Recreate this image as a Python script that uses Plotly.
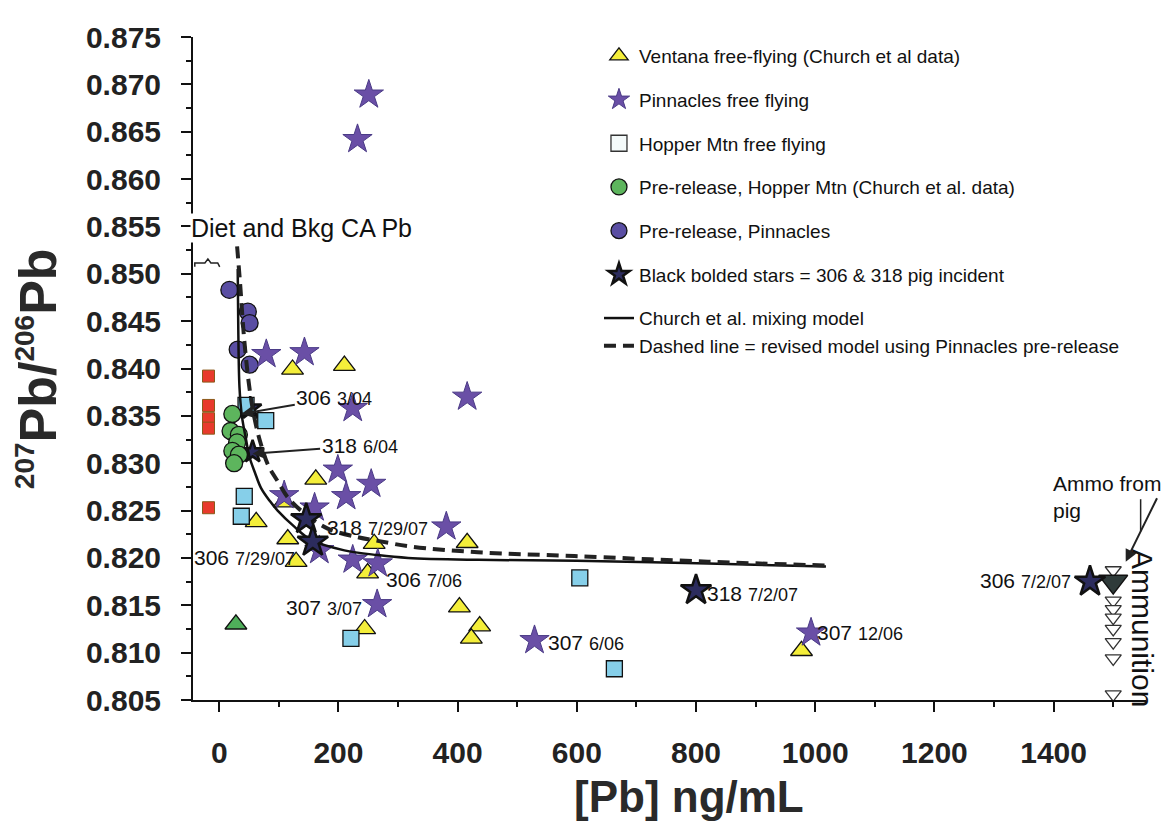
import plotly.graph_objects as go

# ---------------- data ----------------
ventana_x = [123, 210, 62, 109, 162, 115, 129, 260, 249, 244, 416, 403, 437, 423, 977]
ventana_y = [0.8399, 0.8403, 0.8238, 0.8259, 0.8283, 0.8220, 0.8196, 0.8215, 0.8184,
             0.8125, 0.8216, 0.8148, 0.8128, 0.8115, 0.8102]

pinn_ff_x = [251, 232, 79, 143, 224, 416, 109, 199, 255, 213, 160, 381, 168, 224, 266, 265, 529, 993]
pinn_ff_y = [0.8689, 0.8642, 0.8415, 0.8417, 0.8358, 0.8370, 0.8266, 0.8293, 0.8278, 0.8265,
             0.8253, 0.8233, 0.8208, 0.8198, 0.8194, 0.8151, 0.8113, 0.8121]

hopper_ff_x = [45, 78, 42, 37, 605, 221, 663]
hopper_ff_y = [0.8361, 0.8345, 0.8265, 0.8244, 0.8179, 0.8115, 0.8083]

pre_hopper_x = [22, 19, 33, 30, 22, 33, 25]
pre_hopper_y = [0.8352, 0.8334, 0.8330, 0.8322, 0.8313, 0.8309, 0.8300]

pre_pinn_x = [17, 48, 51, 31, 51]
pre_pinn_y = [0.8483, 0.8460, 0.8448, 0.8420, 0.8404]

# black bolded stars (pig incident): early samples sit under the clusters
pig_early_x = [52, 56]
pig_early_y = [0.8358, 0.8312]
pig_late_x = [146, 157, 800, 1461]
pig_late_y = [0.8241, 0.8217, 0.8166, 0.8175]

red_x = [-18, -18, -18, -18, -18]
red_y = [0.8392, 0.8361, 0.8347, 0.8337, 0.8253]

green_tri_x = [28]
green_tri_y = [0.8130]

ammo_x = [1500, 1500, 1500, 1500, 1500, 1500, 1500, 1500]
ammo_y = [0.8187, 0.8155, 0.8146, 0.8137, 0.8125, 0.8111, 0.8094, 0.8056]

ammo_pig_x = [1500]
ammo_pig_y = [0.8175]

church_x = [31, 32, 34, 38, 45, 51, 60, 70, 85, 98, 126, 154, 210, 266, 317, 434, 600, 820, 1018]
church_y = [0.8505, 0.8440, 0.8380, 0.8350, 0.8325, 0.8306, 0.8290, 0.8274, 0.8260, 0.8250,
            0.8233, 0.8219, 0.8208, 0.8203, 0.8200, 0.8198, 0.8197, 0.8194, 0.8191]

revised_x = [30, 35, 42, 51, 60, 70, 82, 98, 115, 143, 182, 232, 266, 322, 434, 596, 820, 1018]
revised_y = [0.8529, 0.8490, 0.8430, 0.8378, 0.8345, 0.8320, 0.8298, 0.8281, 0.8264, 0.8247,
             0.8231, 0.8222, 0.8218, 0.8212, 0.8206, 0.8202, 0.8196, 0.8192]

# sample labels without arrows: (id, date, x, y)
label_id = ["318", "306", "306", "307", "307", "318", "307", "306"]
label_date = ["7/29/07", "7/29/07", "7/06", "3/07", "6/06", "7/2/07", "12/06", "7/2/07"]
label_x = [266, 43, 343, 175, 615, 895, 1075, 1352]
label_y = [0.82322, 0.82000, 0.81771, 0.81479, 0.81104, 0.81625, 0.81208, 0.81760]

# sample labels with arrows: (id, date, arrow head x, y)
arrow_id = ["306", "318"]
arrow_date = ["3/04", "6/04"]
arrow_x = [37, 56]
arrow_y = [0.8352, 0.8310]

FONT = "Liberation Sans, Arial, Helvetica, sans-serif"

fig = go.Figure()

mline = dict(color="#111111", width=1.3)
star_dark = dict(symbol="star", size=23, color="#2c2c5e", line=dict(color="#111111", width=2.5))

fig.add_trace(go.Scatter(x=pig_early_x, y=pig_early_y, mode="markers", showlegend=False,
                         marker=dict(star_dark, size=17)))
fig.add_trace(go.Scatter(x=red_x, y=red_y, mode="markers", showlegend=False,
                         marker=dict(symbol="square", size=12, color="#e83a2c",
                                     line=dict(color="#8a5a1a", width=1))))
fig.add_trace(go.Scatter(x=green_tri_x, y=green_tri_y, mode="markers", showlegend=False,
                         marker=dict(symbol="triangle-up", size=19, color="#4fae5a", line=mline)))
fig.add_trace(go.Scatter(x=ventana_x, y=ventana_y, mode="markers",
                         name="Ventana free-flying (Church et al data)", legendgroup="g1", legendrank=1,
                         marker=dict(symbol="triangle-up", size=19, color="#f4ee3a", line=mline)))
fig.add_trace(go.Scatter(x=hopper_ff_x, y=hopper_ff_y, mode="markers", showlegend=False,
                         legendgroup="g3",
                         marker=dict(symbol="square", size=16, color="#86cfe9", line=mline)))
fig.add_trace(go.Scatter(x=[None], y=[None], mode="markers",
                         name="Hopper Mtn free flying", legendgroup="g3", legendrank=3,
                         marker=dict(symbol="square", size=16, color="#f4fafa",
                                     line=dict(color="#333333", width=1.3))))
fig.add_trace(go.Scatter(x=pre_hopper_x, y=pre_hopper_y, mode="markers",
                         name="Pre-release, Hopper Mtn (Church et al. data)", legendgroup="g4", legendrank=4,
                         marker=dict(symbol="circle", size=17, color="#5db55d", line=mline)))
fig.add_trace(go.Scatter(x=pre_pinn_x, y=pre_pinn_y, mode="markers",
                         name="Pre-release, Pinnacles", legendgroup="g5", legendrank=5,
                         marker=dict(symbol="circle", size=17, color="#5a4ea3", line=mline)))
fig.add_trace(go.Scatter(x=pinn_ff_x, y=pinn_ff_y, mode="markers",
                         name="Pinnacles free flying", legendgroup="g2", legendrank=2,
                         marker=dict(symbol="star", size=22, color="#6a4fa6",
                                     line=dict(color="#4a3a86", width=1))))
fig.add_trace(go.Scatter(x=church_x, y=church_y, mode="lines", line_shape="spline",
                         name="Church et al. mixing model", legendgroup="g7", legendrank=7,
                         line=dict(color="#111111", width=2.5)))
fig.add_trace(go.Scatter(x=revised_x, y=revised_y, mode="lines", line_shape="spline",
                         name="Dashed line = revised model using Pinnacles pre-release",
                         legendgroup="g7", legendrank=8,
                         line=dict(color="#222222", width=4, dash="12px,7px")))
fig.add_trace(go.Scatter(x=ammo_x, y=ammo_y, mode="markers", showlegend=False,
                         marker=dict(symbol="triangle-down", size=14, color="white",
                                     line=dict(color="#333333", width=1.3))))
fig.add_trace(go.Scatter(x=ammo_pig_x, y=ammo_pig_y, mode="markers", showlegend=False,
                         marker=dict(symbol="triangle-down", size=25, color="#2f3b3a",
                                     line=dict(color="#111111", width=1.5))))
fig.add_trace(go.Scatter(x=pig_late_x, y=pig_late_y, mode="markers",
                         name="Black bolded stars = 306 & 318 pig incident", legendgroup="g6", legendrank=6,
                         marker=star_dark))

def lab(i, d):
    return f"{i} <span style='font-size:18px'>{d}</span>"

ann = []
for i, d, x, y in zip(label_id, label_date, label_x, label_y):
    ann.append(dict(x=x, y=y, xref="x", yref="y", text=lab(i, d), showarrow=False,
                    font=dict(size=21, color="#111111", family=FONT)))

# labels with arrows (text offset in pixels from arrow head)
arrow_ax = [93, 107]
arrow_ay = [-16, -8]
for i, d, x, y, ax, ay in zip(arrow_id, arrow_date, arrow_x, arrow_y, arrow_ax, arrow_ay):
    ann.append(dict(x=x, y=y, xref="x", yref="y", text=lab(i, d), showarrow=True, arrowhead=2,
                    arrowsize=1.2, arrowwidth=2, arrowcolor="#222222", ax=ax, ay=ay, standoff=0,
                    font=dict(size=21, color="#111111", family=FONT)))

ann.append(dict(x=1521, y=0.8196, xref="x", yref="y", text="", showarrow=True, arrowhead=2,
                arrowsize=1.2, arrowwidth=2, arrowcolor="#222222", ax=32, ay=-65, standoff=0))

ann.append(dict(x=1398, y=0.8292, xref="x", yref="y", xanchor="left", yanchor="top", align="left",
                text="Ammo from<br>pig", showarrow=False, borderpad=0,
                font=dict(size=21, color="#111111", family=FONT)))
ann.append(dict(x=1550, y=0.8126, xref="x", yref="y", text="Ammunition", textangle=90,
                showarrow=False, font=dict(size=30, color="#111111", family=FONT)))
ann.append(dict(x=-43.5, y=0.8548, xref="x", yref="y", xanchor="left", xshift=-3,
                text="Diet and Bkg CA Pb",
                showarrow=False, bgcolor="white", borderpad=0,
                font=dict(size=25, color="#111111", family=FONT)))

# axis titles
ann.append(dict(x=0.52, y=-0.145, xref="paper", yref="paper", yanchor="middle",
                text="<b>[Pb] ng/mL</b>", showarrow=False, borderpad=0,
                font=dict(size=44, color="#2a2a2a", family=FONT)))
ann.append(dict(x=-0.163, y=0.5, xref="paper", yref="paper", xanchor="center",
                text=("<b><sup><span style='font-size:28px'>207</span></sup>Pb/"
                      "<sup><span style='font-size:28px'>206</span></sup>Pb</b>"),
                textangle=-90, showarrow=False,
                font=dict(size=52, color="#2a2a2a", family=FONT)))

shapes = [
    # small brace next to "Diet and Bkg CA Pb"
    dict(type="path", xref="x", yref="y",
         path="M -41,0.85073 L -41,0.85115 L -24,0.85115 L -19,0.85157 L -14,0.85115 L -2.5,0.85115 L 0.8,0.85073",
         line=dict(color="#222222", width=1.5)),
    dict(type="line", xref="x", yref="y", x0=1546, x1=1546, y0=0.8228, y1=0.8262,
         line=dict(color="#222222", width=1.5)),
]

fig.update_layout(
    width=1171, height=824,
    margin=dict(l=185, r=33, t=19, b=132),
    paper_bgcolor="white", plot_bgcolor="white",
    font=dict(family=FONT, color="#111111"),
    showlegend=True,
    legend=dict(x=0.426, y=1.0, xanchor="left", yanchor="top", traceorder="grouped",
                tracegroupgap=16, bgcolor="rgba(0,0,0,0)",
                font=dict(size=19, family=FONT, color="#111111")),
    annotations=ann,
    shapes=shapes,
)

fig.update_xaxes(range=[-44, 1555], showline=True, linecolor="#111111", linewidth=2,
                 ticks="outside", ticklen=10, tickwidth=2, tickcolor="#111111",
                 tick0=0, dtick=200, showgrid=False, zeroline=False,
                 minor=dict(ticks="outside", ticklen=5, tickwidth=1.5, dtick=100, tickcolor="#111111"),
                 tickfont=dict(size=30, family=FONT, weight="bold", color="#222222"),
                 ticklabelstandoff=15)
fig.update_yaxes(range=[0.805, 0.875], showline=True, linecolor="#111111", linewidth=2,
                 ticks="outside", ticklen=10, tickwidth=2, tickcolor="#111111",
                 tick0=0.805, dtick=0.005, tickformat=".3f", showgrid=False, zeroline=False,
                 minor=dict(ticks="outside", ticklen=5, tickwidth=1.5, dtick=0.0025, tickcolor="#111111"),
                 tickfont=dict(size=30, family=FONT, weight="bold", color="#222222"),
                 ticklabelstandoff=14)

fig.write_html("out.html")
